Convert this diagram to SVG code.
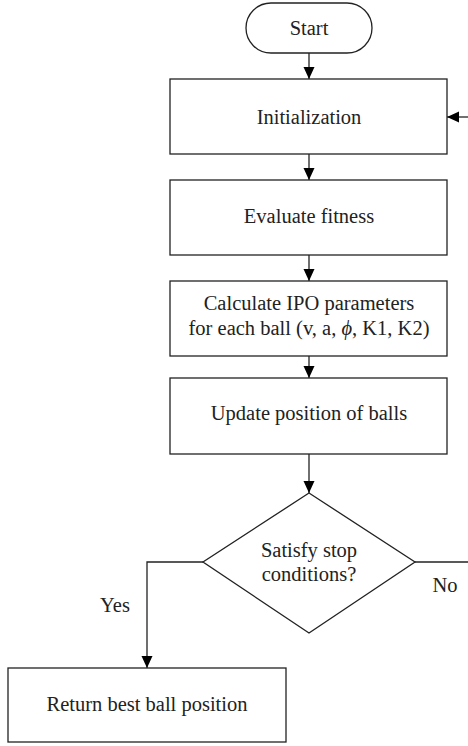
<svg xmlns="http://www.w3.org/2000/svg" width="468" height="746" viewBox="0 0 468 746">
<style>
.n{fill:#fff;stroke:#222;stroke-width:1.3}
.t{font-family:"Liberation Serif","Times New Roman",serif;font-size:20.5px;fill:#222;text-anchor:middle}
.c{fill:none;stroke:#222;stroke-width:1.3}
</style>
<defs>
<marker id="ah" markerWidth="12" markerHeight="12" refX="12" refY="6" orient="auto" markerUnits="userSpaceOnUse">
<path d="M0,0.5 L12,6 L0,11.5 Z" fill="#000"/>
</marker>
</defs>
<rect width="468" height="746" fill="#fff"/>
<g id="connectors">
<line class="c" x1="309" y1="53" x2="309" y2="79" marker-end="url(#ah)"/>
<line class="c" x1="309" y1="154" x2="309" y2="180" marker-end="url(#ah)"/>
<line class="c" x1="309" y1="255" x2="309" y2="281" marker-end="url(#ah)"/>
<line class="c" x1="309" y1="356" x2="309" y2="378" marker-end="url(#ah)"/>
<line class="c" x1="309" y1="454" x2="309" y2="493" marker-end="url(#ah)"/>
<polyline class="c" points="203,562 147,562 147,668" marker-end="url(#ah)"/>
<line class="c" x1="415" y1="562" x2="468" y2="562"/>
<line class="c" x1="468" y1="117" x2="447" y2="117" marker-end="url(#ah)"/>
<text class="t" x="115" y="612">Yes</text>
<text class="t" x="445" y="592">No</text>
</g>
<g id="start">
<rect class="n" x="246" y="3" width="126" height="50" rx="25"/>
<text class="t" x="309" y="35">Start</text>
</g>
<g id="init">
<rect class="n" x="170" y="79" width="277" height="75"/>
<text class="t" x="309" y="124">Initialization</text>
</g>
<g id="evaluate">
<rect class="n" x="170" y="180" width="277" height="75"/>
<text class="t" x="309" y="223">Evaluate fitness</text>
</g>
<g id="calc">
<rect class="n" x="170" y="281" width="277" height="75"/>
<text class="t" x="309" y="310">Calculate IPO parameters</text>
<text class="t" x="309" y="335">for each ball (v, a, <tspan font-style="italic">ϕ</tspan>, K1, K2)</text>
</g>
<g id="update">
<rect class="n" x="170" y="378" width="277" height="76"/>
<text class="t" x="309" y="420">Update position of balls</text>
</g>
<g id="decision">
<polygon class="n" points="309,493 415,562 309,633 203,562"/>
<text class="t" x="309" y="557">Satisfy stop</text>
<text class="t" x="309" y="581">conditions?</text>
</g>
<g id="return">
<rect class="n" x="8" y="668" width="278" height="74"/>
<text class="t" x="147" y="711">Return best ball position</text>
</g>
</svg>
